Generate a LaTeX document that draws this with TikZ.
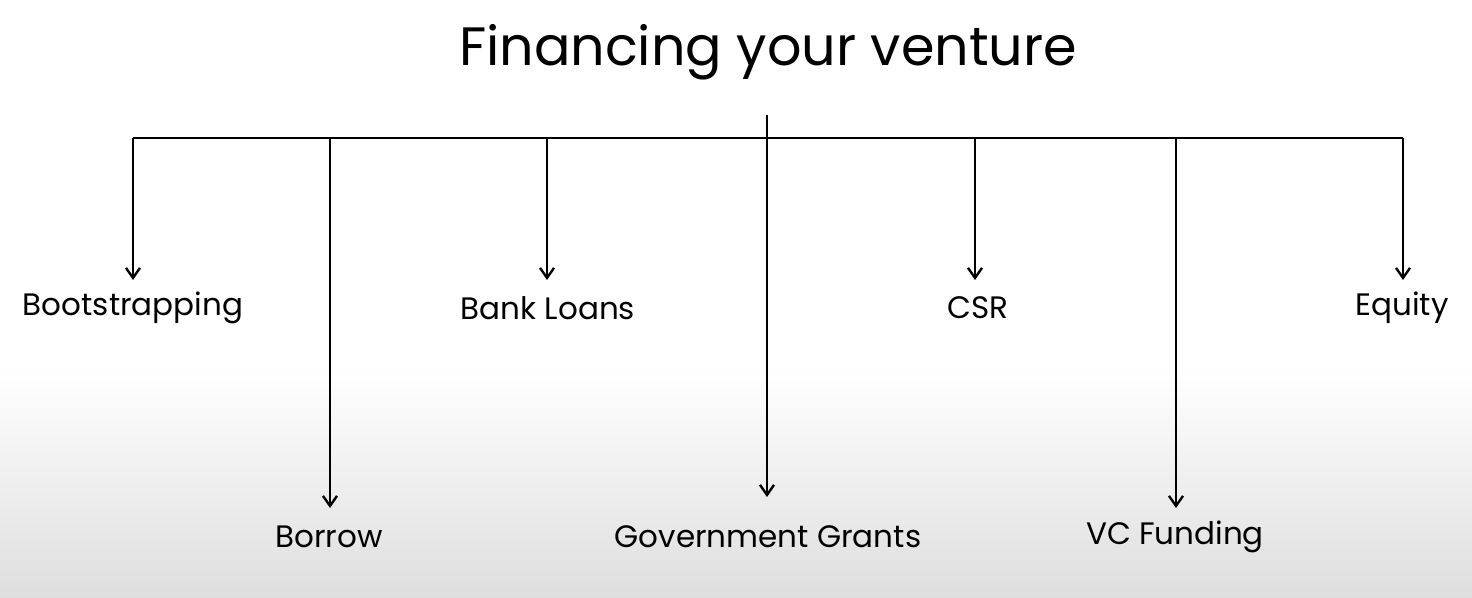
\documentclass[tikz,border=0pt]{standalone}
\usepackage{fontspec}
\setmainfont{Poppins}
\usetikzlibrary{arrows.meta}
\begin{document}
\begin{tikzpicture}[x=0.5pt,y=0.5pt,yscale=-1,xscale=1,
  branch/.style={line width=1.2pt,-{Straight Barb[length=5pt,width=7pt]}},
  item/.style={inner sep=0pt,font=\fontsize{15.5}{18}\selectfont}]
% background
\fill[white] (0,0) rectangle (1472,370);
\shade[top color=white,bottom color=black!13] (0,370) rectangle (1472,598);
\useasboundingbox (0,0) rectangle (1472,598);

% Text Node
\node (title) at (768,52) [inner sep=0pt,font=\fontsize{27}{32}\selectfont] {Financing your venture};
% Straight Lines
\coordinate (top) at (767,115);
\coordinate (bar) at (767,138);
\coordinate (bl) at (133,138);
\coordinate (br) at (1403,138);
\draw[line width=1.2pt] (bl) -- (br);
\draw[branch] (top) -- (767,497);
\foreach \x/\y in {133/280,330/508,547/280,975/280,1176/508,1403/280}
  \draw[branch] (\x,138) -- (\x,\y);

% Text Node
\node[item] (boot) at (133,308) {Bootstrapping};
\node[item] (borrow) at (329,537) {Borrow};
\node[item] (bank) at (548,308) {Bank Loans};
\node[item] (grants) at (768,537) {Government Grants};
\node[item] (csr) at (978,308) {CSR};
\node[item] (vc) at (1175,537) {VC Funding};
\node[item] (equity) at (1402,308) {Equity};
\end{tikzpicture}
\end{document}
